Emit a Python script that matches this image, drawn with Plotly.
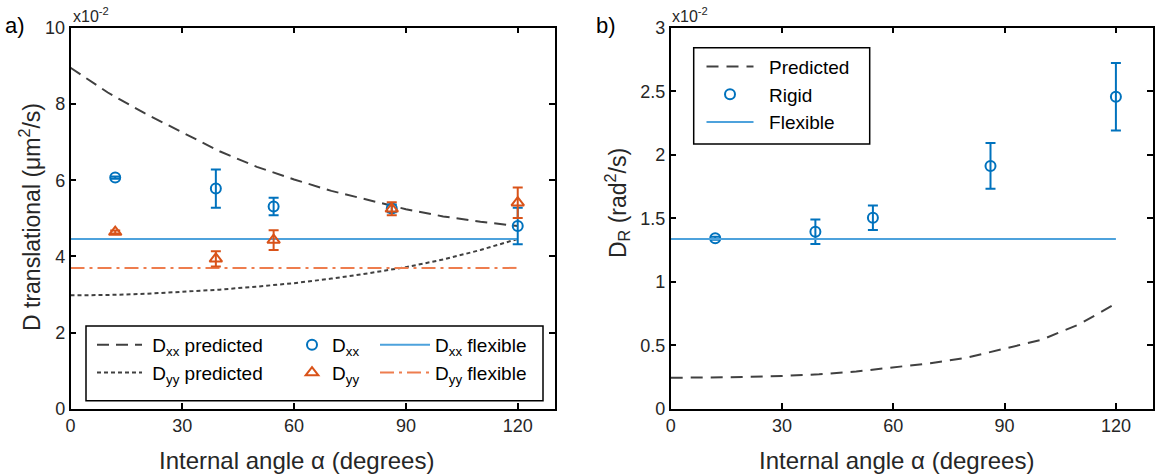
import plotly.graph_objects as go

# ---------------- data ----------------
angles = [12, 39, 54.5, 86.2, 120]
dxx = [6.07, 5.78, 5.31, 5.26, 4.80]
dxx_err = [0.03, 0.50, 0.23, 0.10, 0.48]
dyy = [4.64, 3.94, 4.43, 5.25, 5.41]
dyy_err = [0.04, 0.20, 0.26, 0.17, 0.40]

flex_angles = [0, 120]
dxx_flex = [4.46, 4.46]
dyy_flex = [3.70, 3.70]

pred_angles = [0, 10, 20, 30, 40, 50, 60, 70, 80, 90, 100, 110, 120]
dxx_pred = [8.95, 8.30, 7.75, 7.25, 6.76, 6.35, 6.02, 5.72, 5.47, 5.24, 5.05, 4.91, 4.80]
dyy_pred = [2.98, 2.99, 3.02, 3.07, 3.13, 3.21, 3.30, 3.42, 3.56, 3.72, 3.92, 4.17, 4.46]

dr = [1.343, 1.395, 1.505, 1.912, 2.457]
dr_err = [0.012, 0.096, 0.096, 0.18, 0.266]
dr_flex = [1.337, 1.337]
dr_pred = [0.245, 0.247, 0.252, 0.26, 0.273, 0.295, 0.325, 0.36, 0.405, 0.475, 0.545, 0.665, 0.83]

x_ticks = [0, 30, 60, 90, 120]
left_y_ticks = [0, 2, 4, 6, 8, 10]
right_y_ticks = [0, 0.5, 1, 1.5, 2, 2.5, 3]
right_y_labels = ["0", "0.5", "1", "1.5", "2", "2.5", "3"]

# ---------------- style ----------------
W, H = 1155, 474
FONT = "Liberation Sans, Arial, sans-serif"
TXT = "#262626"
BLUE = "#0072BD"
ORANGE = "#D95319"
LBLUE = "#4DA2DC"
LORANGE = "#EE7D4E"
GREY = "#404040"
SP = "\u00a0"


def px(x):
    return x / W


def py(y):
    return 1 - y / H


fig = go.Figure()

# ---- left panel ----
fig.add_trace(go.Scatter(x=pred_angles, y=dxx_pred, mode="lines", name=SP + "D<sub>xx</sub> predicted",
                         line=dict(color=GREY, width=2, dash="12px,7px"),
                         xaxis="x", yaxis="y", legend="legend"))
fig.add_trace(go.Scatter(x=pred_angles, y=dyy_pred, mode="lines", name=SP + "D<sub>yy</sub> predicted",
                         line=dict(color=GREY, width=2, dash="4px,3px"),
                         xaxis="x", yaxis="y", legend="legend"))
fig.add_trace(go.Scatter(x=flex_angles, y=dxx_flex, mode="lines", name="D<sub>xx</sub> flexible",
                         line=dict(color=LBLUE, width=2),
                         xaxis="x", yaxis="y", legend="legend3"))
fig.add_trace(go.Scatter(x=flex_angles, y=dyy_flex, mode="lines", name="D<sub>yy</sub> flexible",
                         line=dict(color=LORANGE, width=2, dash="14px,5px,3px,5px"),
                         xaxis="x", yaxis="y", legend="legend3"))
fig.add_trace(go.Scatter(x=angles, y=dxx, mode="markers", name="D<sub>xx</sub>",
                         marker=dict(symbol="circle-open", size=10, color=BLUE, line=dict(width=2, color=BLUE)),
                         error_y=dict(type="data", array=dxx_err, color=BLUE, thickness=2, width=5),
                         xaxis="x", yaxis="y", legend="legend2"))
fig.add_trace(go.Scatter(x=angles, y=dyy, mode="markers", name="D<sub>yy</sub>",
                         marker=dict(symbol="triangle-up-open", size=11, color=ORANGE, line=dict(width=2, color=ORANGE)),
                         error_y=dict(type="data", array=dyy_err, color=ORANGE, thickness=2, width=5),
                         xaxis="x", yaxis="y", legend="legend2"))

# ---- right panel ----
fig.add_trace(go.Scatter(x=pred_angles, y=dr_pred, mode="lines", name=SP * 2 + "Predicted",
                         line=dict(color=GREY, width=2, dash="12px,8px"),
                         xaxis="x2", yaxis="y2", legend="legend4"))
fig.add_trace(go.Scatter(x=angles, y=dr, mode="markers", name=SP * 2 + "Rigid",
                         marker=dict(symbol="circle-open", size=10, color=BLUE, line=dict(width=2, color=BLUE)),
                         error_y=dict(type="data", array=dr_err, color=BLUE, thickness=2, width=5),
                         xaxis="x2", yaxis="y2", legend="legend4"))
fig.add_trace(go.Scatter(x=flex_angles, y=dr_flex, mode="lines", name=SP * 2 + "Flexible",
                         line=dict(color=LBLUE, width=2),
                         xaxis="x2", yaxis="y2", legend="legend4"))

axis_common = dict(showgrid=False, zeroline=False, showline=True, linecolor="black", linewidth=1.5,
                   mirror="ticks", ticks="inside", ticklen=6, tickwidth=1.5, tickcolor="black",
                   tickfont=dict(family=FONT, size=18, color=TXT), automargin=False)

ydom = [py(409), py(27.7)]
fig.update_layout(
    width=W, height=H,
    margin=dict(l=0, r=0, t=0, b=0),
    paper_bgcolor="white", plot_bgcolor="white",
    font=dict(family=FONT, size=19, color=TXT),
    xaxis=dict(domain=[px(70.5), px(555)], range=[0, 130], tickvals=x_ticks, anchor="y", **axis_common),
    yaxis=dict(domain=ydom, range=[0, 10], tickvals=left_y_ticks, anchor="x", **axis_common),
    xaxis2=dict(domain=[px(670.7), px(1153)], range=[0, 130], tickvals=x_ticks, anchor="y2", **axis_common),
    yaxis2=dict(domain=ydom, range=[0, 3], tickvals=right_y_ticks, ticktext=right_y_labels, anchor="x2", **axis_common),
    showlegend=True,
)

leg_common = dict(bgcolor="rgba(0,0,0,0)", borderwidth=0, xanchor="left", yanchor="top",
                  font=dict(family=FONT, size=19, color="black"), orientation="v")
fig.update_layout(
    legend=dict(x=px(92), y=py(326), itemwidth=45, **leg_common),
    legend2=dict(x=px(292), y=py(326), itemwidth=30, **leg_common),
    legend3=dict(x=px(375), y=py(326), itemwidth=50, **leg_common),
    legend4=dict(x=px(701.5), y=py(47.7), itemwidth=47, **leg_common),
)

# legend boxes
fig.add_shape(type="rect", xref="paper", yref="paper", x0=px(86), x1=px(543), y0=py(400.7), y1=py(326),
              line=dict(color="black", width=1.5), fillcolor="white", layer="above")
fig.add_shape(type="rect", xref="paper", yref="paper", x0=px(693.7), x1=px(869.7), y0=py(144), y1=py(47.7),
              line=dict(color="black", width=1.5), fillcolor="white", layer="above")

# titles and labels
ann = [
    dict(text="Internal angle α (degrees)", x=px(296.7), y=py(460), size=24),
    dict(text="Internal angle α (degrees)", x=px(896.7), y=py(460), size=24),
    dict(text="D translational (μm<sup>2</sup>/s)", x=px(30), y=py(217), size=23, angle=-90),
    dict(text="D<sub>R</sub> (rad<sup>2</sup>/s)", x=px(617), y=py(203), size=23, angle=-90),
    dict(text="a)", x=px(15), y=py(25), size=22),
    dict(text="b)", x=px(606), y=py(25), size=22),
    dict(text="x10<sup>-2</sup>", x=px(91), y=py(15), size=16),
    dict(text="x10<sup>-2</sup>", x=px(690), y=py(15), size=16),
]
for a in ann:
    fig.add_annotation(text=a["text"], x=a["x"], y=a["y"], xref="paper", yref="paper",
                       showarrow=False, xanchor="center", yanchor="middle",
                       textangle=a.get("angle", 0),
                       font=dict(family=FONT, size=a["size"], color=TXT if a["size"] != 22 else "black"))

fig.write_html("out.html", config={"displayModeBar": False},
               post_script="document.body.style.margin='0px';document.body.style.overflow='hidden';")
